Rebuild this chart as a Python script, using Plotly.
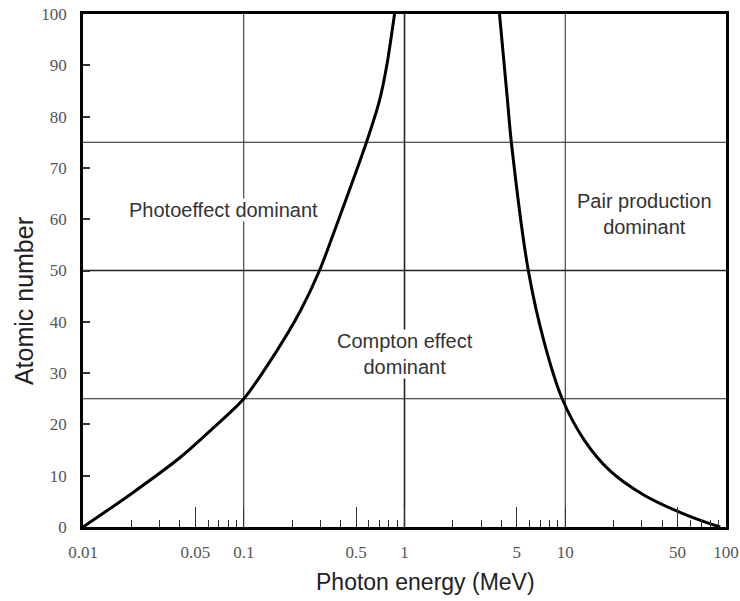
import math
import plotly.graph_objects as go

# Photoeffect / Compton boundary
photo_energy = [0.01, 0.02, 0.04, 0.063, 0.10, 0.158, 0.224, 0.296, 0.39, 0.58, 0.70, 0.776, 0.867]
photo_z = [0, 6.5, 13.5, 19, 25, 34, 42, 50, 60, 75, 83.2, 90, 100]

# Compton / pair production boundary
pair_energy = [3.9, 4.37, 4.62, 5.89, 7.4, 9.57, 13.1, 18.8, 31, 59, 80, 92]
pair_z = [100, 83.2, 75, 50, 36, 25, 17, 11.1, 6.2, 2.1, 0.6, 0]

grid_x = [0.1, 1, 10]
grid_x_width = [1, 1.6, 1]
grid_y = [25, 50, 75]
grid_y_width = [1.2, 1.5, 1]

x_tickvals = [0.01, 0.05, 0.1, 0.5, 1, 5, 10, 50, 100]
x_ticktext = ["0.01", "0.05", "0.1", "0.5", "1", "5", "10", "50", "100"]
x_minor = [m * d for d in [0.01, 0.1, 1, 10] for m in [2, 3, 4, 6, 7, 8, 9]]
y_tickvals = list(range(0, 101, 10))

labels = [
    ("Photoeffect dominant", 0.0746, 61.8),
    ("Compton effect<br>dominant", 1.0, 33.7),
    ("Pair production<br>dominant", 31, 61),
]

fig = go.Figure()
for ex, zz in [(photo_energy, photo_z), (pair_energy, pair_z)]:
    fig.add_trace(go.Scatter(x=ex, y=zz, mode="lines",
                             line=dict(color="black", width=3, shape="spline", smoothing=0.8),
                             showlegend=False, hoverinfo="skip"))

for gx, w in zip(grid_x, grid_x_width):
    fig.add_shape(type="line", xref="x", yref="y", x0=gx, x1=gx, y0=0, y1=100,
                  line=dict(color="#222", width=w), layer="below")
for gy, w in zip(grid_y, grid_y_width):
    fig.add_shape(type="line", xref="x", yref="y", x0=0.01, x1=100, y0=gy, y1=gy,
                  line=dict(color="#222", width=w), layer="below")

for txt, lx, ly in labels:
    fig.add_annotation(x=math.log10(lx), y=ly, xref="x", yref="y", text=txt, showarrow=False,
                       font=dict(family="Liberation Sans, Arial", size=20, color="#333"),
                       bgcolor="white", borderpad=0)

fig.add_annotation(x=0.532, y=-0.108, xref="paper", yref="paper", text="Photon energy (MeV)",
                   xanchor="center", yanchor="middle",
                   showarrow=False, font=dict(family="Liberation Sans, Arial", size=23, color="#222"))
fig.add_annotation(x=-0.092, y=0.44, xref="paper", yref="paper", text="Atomic number",
                   xanchor="center", yanchor="middle",
                   showarrow=False, textangle=-90,
                   font=dict(family="Liberation Sans, Arial", size=25, color="#222"))

fig.update_layout(
    width=740, height=601,
    margin=dict(l=83, r=14, t=14, b=74),
    paper_bgcolor="white", plot_bgcolor="white",
    xaxis=dict(type="log", range=[-2, 2], tickvals=x_tickvals, ticktext=x_ticktext,
               ticks="inside", ticklen=20, tickwidth=1, tickcolor="#333",
               minor=dict(tickvals=x_minor, ticks="inside", ticklen=7, tickwidth=1, tickcolor="#333"),
               showgrid=False, zeroline=False, showline=True, linecolor="black", linewidth=2.5,
               mirror=True, ticklabelstandoff=8, automargin=False,
               tickfont=dict(family="Liberation Serif, Times New Roman", size=17, color="#555")),
    yaxis=dict(range=[0, 100], tickvals=y_tickvals, ticks="inside", ticklen=7, tickwidth=1.5,
               tickcolor="#333", showgrid=False, zeroline=False, showline=True,
               linecolor="black", linewidth=2.5, mirror=True, ticklabelstandoff=10, automargin=False,
               tickfont=dict(family="Liberation Serif, Times New Roman", size=17, color="#555")),
)

fig.write_html("out.html")
